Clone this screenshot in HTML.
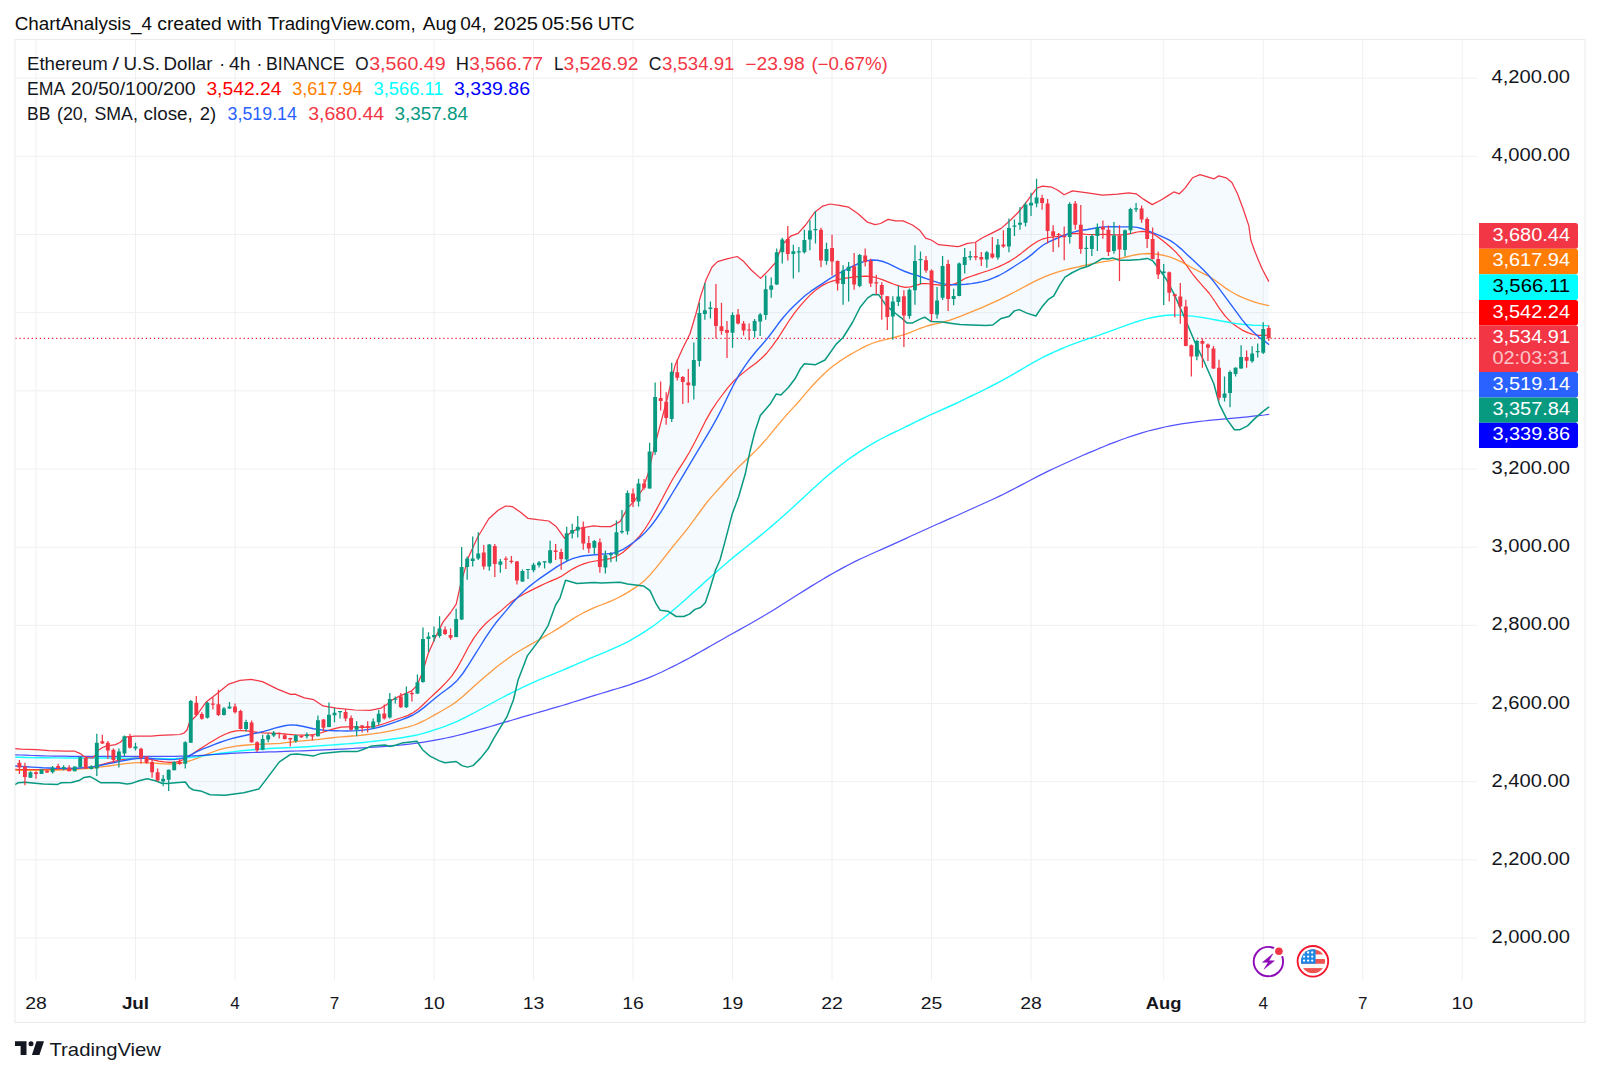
<!DOCTYPE html>
<html><head><meta charset="utf-8"><title>ETHUSD chart</title>
<style>html,body{margin:0;padding:0;background:#fff;}body{width:1600px;height:1075px;overflow:hidden;font-family:"Liberation Sans", sans-serif;}svg{display:block;position:absolute;left:0;top:0;}text{font-family:"Liberation Sans", sans-serif;}</style>
</head><body>
<svg width="1600" height="1075" viewBox="0 0 1600 1075">
<rect x="0" y="0" width="1600" height="1075" fill="#ffffff"/>
<path d="M36.0 40V980.5M135.5 40V980.5M235.0 40V980.5M334.5 40V980.5M434.0 40V980.5M533.5 40V980.5M633.0 40V980.5M732.5 40V980.5M832.0 40V980.5M931.5 40V980.5M1031.0 40V980.5M1163.7 40V980.5M1263.2 40V980.5M1362.7 40V980.5M1462.2 40V980.5M15 78.15H1477M15 156.32H1477M15 234.49H1477M15 312.66H1477M15 390.83H1477M15 469.00H1477M15 547.17H1477M15 625.34H1477M15 703.51H1477M15 781.68H1477M15 859.85H1477M15 938.02H1477" stroke="#f0f0f2" stroke-width="1" fill="none"/>
<rect x="15" y="39.5" width="1570" height="983" fill="none" stroke="#ebebee" stroke-width="1"/>
<clipPath id="cc"><rect x="15.3" y="40" width="1462.5" height="941"/></clipPath>
<g clip-path="url(#cc)">
<path d="M15.0 748.7L21.2 749.2L36.2 749.6L49.1 750.6L65.8 751.2L74.8 751.2L78.7 752.9L81.5 754.3L83.8 756.4L87.9 757.6L92.8 758.0L96.0 754.4L98.4 750.3L102.5 747.5L106.6 745.8L110.6 745.4L115.5 744.6L120.4 742.2L123.6 738.9L126.9 736.9L135.0 736.1L143.1 736.1L151.2 736.1L159.4 735.3L171.6 734.9L179.7 734.5L183.8 733.2L187.0 730.0L189.4 722.5L196.9 715.0L206.2 701.9L218.4 692.5L228.8 684.1L240.0 680.3L251.2 679.4L262.5 681.6L277.5 689.1L290.6 694.4L295.0 694.1L304.4 697.8L313.8 699.7L323.1 705.9L336.2 708.1L355.0 710.0L370.0 710.4L381.2 708.1L386.9 704.4L392.5 699.7L400.0 695.9L411.2 691.2L416.9 685.6L422.5 672.5L428.1 653.8L435.6 636.9L443.1 621.9L450.6 612.5L456.2 604.1L460.6 584.4L468.1 558.1L477.5 537.5L488.8 518.8L498.1 510.3L505.6 506.0L512.2 506.6L520.6 512.2L528.1 518.4L537.5 519.7L548.8 521.0L556.2 526.6L564.7 538.4L571.2 531.9L578.8 528.5L586.2 527.2L593.8 525.9L601.2 526.6L610.6 526.6L620.0 521.6L627.5 508.4L635.0 500.0L642.5 489.7L648.1 473.8L653.8 449.4L667.5 397.5L675.0 365.6L682.5 348.8L690.0 333.8L695.6 315.0L700.6 296.2L706.2 279.4L711.9 267.2L717.5 261.6L726.9 258.8L737.2 256.5L743.8 261.6L751.2 270.0L760.6 278.4L768.1 270.9L775.6 262.5L782.2 244.7L790.6 236.2L798.1 233.4L805.6 225.0L815.0 211.9L822.5 206.2L830.0 204.0L839.4 205.3L848.7 207.2L858.1 213.8L867.5 222.2L875.0 224.6L880.6 223.5L888.1 219.4L895.6 220.9L903.1 220.9L912.5 225.0L920.0 230.6L925.6 238.1L931.2 240.0L938.7 244.7L948.1 245.6L957.5 246.6L960.0 246.2L967.5 243.4L975.0 242.5L982.5 237.8L991.9 233.1L1001.2 228.4L1010.6 220.0L1018.1 212.5L1025.6 203.1L1031.2 195.6L1036.9 188.1L1042.5 186.2L1051.9 187.2L1057.5 190.0L1064.1 194.7L1072.5 190.9L1087.5 192.8L1102.5 195.2L1117.5 194.1L1128.8 192.8L1136.2 193.8L1143.8 199.4L1152.2 204.6L1160.6 200.3L1168.1 195.6L1173.8 191.9L1179.4 193.8L1185.0 188.1L1192.5 177.8L1200.0 174.6L1207.5 176.9L1214.1 178.8L1218.8 175.9L1226.2 177.8L1231.9 182.5L1237.5 193.8L1243.1 208.8L1248.8 225.6L1250.8 240.0L1254.4 250.2L1258.5 260.5L1262.6 269.7L1268.6 281.1L1268.7 407.2L1262.5 411.9L1255.0 418.4L1247.5 425.9L1240.0 429.7L1234.4 429.7L1226.9 419.4L1219.4 404.4L1213.8 383.8L1204.4 362.2L1195.0 342.5L1185.6 320.0L1174.4 294.7L1166.2 279.1L1158.8 268.8L1153.1 261.2L1147.5 258.4L1140.0 259.4L1128.8 260.3L1119.4 260.3L1112.8 257.9L1108.1 259.0L1102.5 258.4L1095.0 262.8L1087.5 266.5L1080.0 268.8L1072.5 272.5L1065.0 277.2L1059.4 285.6L1053.8 295.9L1048.1 299.7L1042.5 306.2L1035.9 316.0L1027.5 313.4L1019.1 309.6L1014.4 310.9L1008.8 316.6L1001.2 318.4L992.8 325.0L986.2 325.4L971.2 325.0L960.0 324.6L951.9 323.4L942.5 322.1L931.2 321.6L924.7 317.2L920.0 319.1L912.5 322.9L906.9 322.9L901.2 317.8L895.6 313.5L886.2 305.6L878.8 294.8L873.1 294.4L867.5 298.1L860.0 307.5L852.5 322.5L843.1 337.5L836.2 344.1L825.0 360.0L815.6 364.7L804.4 363.8L800.6 368.4L795.0 378.8L788.4 387.5L780.9 395.0L776.2 394.1L770.6 403.4L760.3 415.6L754.7 432.5L750.0 451.2L745.3 473.8L738.8 496.2L732.2 514.1L725.6 539.4L720.0 560.0L715.6 570.0L710.0 588.8L705.3 602.8L700.6 607.5L695.0 609.4L689.4 614.1L683.8 616.5L676.2 616.5L667.8 611.2L660.3 610.3L655.6 602.8L650.0 590.6L643.4 585.9L627.5 584.1L620.0 582.2L601.2 583.1L593.8 582.6L576.9 583.5L565.6 580.3L560.0 598.1L555.6 605.0L548.1 625.6L538.8 640.6L527.5 655.6L518.1 680.0L513.4 700.0L506.9 716.9L501.2 726.2L493.8 738.4L488.1 748.8L480.6 758.1L473.1 765.6L467.5 767.1L461.9 765.6L456.2 761.5L445.0 762.8L439.4 760.9L430.0 756.2L422.5 749.7L416.9 741.2L401.9 743.1L396.2 745.0L389.7 746.5L385.0 745.0L371.9 745.9L362.5 749.7L356.9 751.6L341.9 751.6L321.2 753.4L313.8 755.9L296.9 754.0L290.6 754.4L279.4 761.9L268.1 776.9L258.8 789.1L243.8 792.8L225.0 795.2L210.0 794.7L200.6 790.9L193.5 790.0L189.4 787.7L185.4 782.0L175.6 782.8L167.5 783.6L161.8 783.2L155.3 780.8L147.2 778.8L139.1 780.8L130.9 783.6L126.9 784.0L118.8 782.8L110.6 782.8L100.9 782.8L94.4 778.8L90.0 776.6L84.2 777.4L79.8 780.2L71.4 782.5L61.4 782.7L57.5 784.4L43.5 784.1L32.3 783.0L25.1 782.2L18.4 782.7L15.0 784.7Z" fill="#2196f3" fill-opacity="0.05" stroke="none"/>
<path d="M15.4 338.3H1478" stroke="#f0102a" stroke-width="1.25" stroke-dasharray="1.2 2.875" fill="none"/>
<path d="M15.0 769.4L20.5 769.5L26.1 769.6L31.6 769.7L37.1 769.7L42.6 769.6L48.2 769.5L53.7 769.4L59.2 769.2L64.8 769.1L70.3 768.9L75.8 768.7L81.3 768.2L86.9 767.6L92.4 766.8L97.9 765.5L103.4 764.1L109.0 762.6L114.5 761.3L120.0 760.2L125.6 759.1L131.1 758.3L136.6 757.9L142.1 758.1L147.7 758.9L153.2 759.9L158.7 761.1L164.3 761.9L169.8 762.3L175.3 762.3L180.8 760.8L186.4 758.0L191.9 754.2L197.4 750.5L203.0 747.0L208.5 743.6L214.0 740.2L219.5 737.0L225.1 734.2L230.6 732.1L236.1 730.8L241.6 730.5L247.2 730.8L252.7 731.7L258.2 732.4L263.8 732.9L269.3 733.1L274.8 733.3L280.3 733.6L285.9 734.1L291.4 734.6L296.9 735.0L302.5 735.2L308.0 735.1L313.5 734.5L319.0 733.5L324.6 731.7L330.1 729.9L335.6 728.3L341.2 727.2L346.7 726.8L352.2 726.8L357.7 727.1L363.3 727.4L368.8 727.2L374.3 726.5L379.8 725.0L385.4 723.2L390.9 721.2L396.4 719.3L402.0 717.5L407.5 715.6L413.0 712.8L418.5 708.9L424.1 703.7L429.6 698.4L435.1 693.2L440.7 688.0L446.2 682.4L451.7 676.2L457.2 667.9L462.8 657.8L468.3 647.3L473.8 638.1L479.4 630.5L484.9 624.3L490.4 619.4L495.9 615.0L501.5 610.4L507.0 605.4L512.5 601.0L518.0 597.4L523.6 594.3L529.1 591.4L534.6 588.6L540.2 585.9L545.7 583.2L551.2 580.9L556.7 578.6L562.3 575.7L567.8 572.1L573.3 568.6L578.9 565.7L584.4 563.6L589.9 562.0L595.4 561.0L601.0 560.1L606.5 559.4L612.0 558.1L617.6 555.8L623.1 552.2L628.6 547.5L634.1 541.9L639.7 535.8L645.2 528.5L650.7 519.8L656.2 509.9L661.8 499.5L667.3 489.0L672.8 479.0L678.4 469.9L683.9 461.4L689.4 452.2L694.9 442.0L700.5 430.9L706.0 420.1L711.5 410.4L717.1 402.0L722.6 394.5L728.1 387.3L733.6 381.1L739.2 376.0L744.7 371.6L750.2 367.3L755.8 363.2L761.3 358.5L766.8 353.0L772.3 346.1L777.9 338.2L783.4 329.6L788.9 321.0L794.4 313.1L800.0 306.1L805.5 299.8L811.0 294.2L816.6 289.4L822.1 285.6L827.6 282.8L833.1 280.9L838.7 279.5L844.2 278.4L849.7 277.6L855.3 276.8L860.8 276.3L866.3 276.2L871.8 276.6L877.4 278.0L882.9 279.9L888.4 282.1L894.0 284.2L899.5 286.1L905.0 287.3L910.5 286.9L916.1 285.3L921.6 283.7L927.1 283.5L932.6 284.4L938.2 284.8L943.7 285.3L949.2 285.4L954.8 283.9L960.3 281.3L965.8 278.1L971.3 276.2L976.9 274.4L982.4 272.5L987.9 270.7L993.5 268.7L999.0 266.6L1004.5 264.0L1010.0 261.1L1015.6 257.5L1021.1 253.4L1026.6 249.0L1032.2 244.7L1037.7 241.2L1043.2 238.8L1048.7 237.5L1054.3 236.8L1059.8 236.1L1065.3 234.8L1070.8 233.6L1076.4 233.3L1081.9 233.9L1087.4 234.5L1093.0 234.6L1098.5 234.5L1104.0 234.4L1109.5 234.6L1115.1 234.9L1120.6 234.9L1126.1 234.4L1131.7 233.3L1137.2 232.0L1142.7 231.3L1148.2 231.9L1153.8 234.3L1159.3 238.0L1164.8 242.3L1170.4 247.0L1175.9 252.1L1181.4 258.4L1186.9 266.0L1192.5 273.9L1198.0 280.7L1203.5 286.9L1209.0 293.0L1214.6 301.0L1220.1 309.3L1225.6 316.7L1231.2 322.4L1236.7 326.6L1242.2 330.1L1247.7 332.6L1253.3 334.5L1258.8 335.3L1264.3 335.4L1268.6 335.2" fill="none" stroke="#ff0000" stroke-width="1.2" stroke-linejoin="round" stroke-linecap="round" opacity="0.8"/>
<path d="M15.0 770.3L20.5 770.3L26.1 770.3L31.6 770.3L37.1 770.3L42.6 770.2L48.2 770.1L53.7 770.1L59.2 770.0L64.8 769.9L70.3 769.7L75.8 769.3L81.3 768.9L86.9 768.5L92.4 768.0L97.9 767.4L103.4 766.7L109.0 766.0L114.5 765.2L120.0 764.4L125.6 763.6L131.1 763.1L136.6 762.7L142.1 762.7L147.7 762.8L153.2 763.2L158.7 763.5L164.3 763.9L169.8 764.0L175.3 763.8L180.8 763.1L186.4 761.8L191.9 760.1L197.4 758.1L203.0 755.9L208.5 753.6L214.0 751.5L219.5 749.7L225.1 748.2L230.6 747.1L236.1 746.2L241.6 745.5L247.2 745.0L252.7 744.6L258.2 744.3L263.8 744.1L269.3 743.9L274.8 743.6L280.3 743.3L285.9 742.7L291.4 742.0L296.9 741.3L302.5 740.8L308.0 740.3L313.5 739.8L319.0 739.3L324.6 738.7L330.1 738.0L335.6 737.4L341.2 736.9L346.7 736.5L352.2 736.0L357.7 735.6L363.3 735.0L368.8 734.4L374.3 733.7L379.8 732.9L385.4 731.9L390.9 730.8L396.4 729.7L402.0 728.4L407.5 727.1L413.0 725.5L418.5 723.4L424.1 720.7L429.6 717.7L435.1 714.6L440.7 711.5L446.2 708.3L451.7 705.0L457.2 701.1L462.8 696.5L468.3 691.5L473.8 686.5L479.4 681.6L484.9 676.8L490.4 672.2L495.9 667.6L501.5 663.3L507.0 659.2L512.5 655.3L518.0 651.8L523.6 648.5L529.1 645.4L534.6 642.2L540.2 639.1L545.7 635.9L551.2 632.7L556.7 629.4L562.3 625.9L567.8 622.3L573.3 618.6L578.9 615.2L584.4 612.3L589.9 609.6L595.4 607.2L601.0 605.0L606.5 602.9L612.0 600.6L617.6 598.0L623.1 595.1L628.6 591.9L634.1 588.4L639.7 584.5L645.2 579.9L650.7 574.2L656.2 567.7L661.8 560.7L667.3 553.6L672.8 546.6L678.4 539.8L683.9 533.2L689.4 526.2L694.9 518.7L700.5 511.0L706.0 503.5L711.5 496.9L717.1 490.6L722.6 484.5L728.1 478.2L733.6 472.1L739.2 466.5L744.7 461.2L750.2 456.0L755.8 450.6L761.3 444.8L766.8 438.6L772.3 431.9L777.9 425.1L783.4 418.6L788.9 412.4L794.4 406.4L800.0 400.2L805.5 393.7L811.0 387.3L816.6 381.2L822.1 375.7L827.6 370.6L833.1 366.1L838.7 361.9L844.2 358.2L849.7 354.9L855.3 351.7L860.8 348.7L866.3 345.9L871.8 343.5L877.4 341.6L882.9 340.1L888.4 338.8L894.0 337.5L899.5 336.0L905.0 334.3L910.5 332.3L916.1 330.0L921.6 327.8L927.1 326.0L932.6 324.5L938.2 323.3L943.7 321.9L949.2 320.3L954.8 318.4L960.3 316.3L965.8 314.2L971.3 311.9L976.9 309.7L982.4 307.3L987.9 304.9L993.5 302.4L999.0 299.8L1004.5 297.1L1010.0 294.3L1015.6 291.5L1021.1 288.5L1026.6 285.6L1032.2 282.7L1037.7 279.9L1043.2 277.4L1048.7 275.2L1054.3 273.2L1059.8 271.4L1065.3 269.9L1070.8 268.5L1076.4 267.3L1081.9 266.0L1087.4 264.9L1093.0 263.7L1098.5 262.7L1104.0 261.7L1109.5 260.8L1115.1 259.7L1120.6 258.4L1126.1 257.0L1131.7 255.7L1137.2 254.5L1142.7 253.8L1148.2 253.5L1153.8 253.8L1159.3 254.5L1164.8 255.6L1170.4 257.2L1175.9 259.3L1181.4 261.9L1186.9 264.9L1192.5 268.0L1198.0 270.9L1203.5 273.6L1209.0 276.4L1214.6 280.0L1220.1 284.1L1225.6 288.1L1231.2 291.7L1236.7 294.8L1242.2 297.4L1247.7 299.7L1253.3 301.7L1258.8 303.3L1264.3 304.6L1268.6 305.6" fill="none" stroke="#ff8a1f" stroke-width="1.3" stroke-linejoin="round" stroke-linecap="round" opacity="0.85"/>
<path d="M15.0 757.2L20.5 757.3L26.1 757.5L31.6 757.6L37.1 757.7L42.6 757.8L48.2 757.8L53.7 757.9L59.2 757.9L64.8 758.0L70.3 758.0L75.8 758.0L81.3 758.0L86.9 758.0L92.4 758.0L97.9 758.0L103.4 758.0L109.0 758.0L114.5 758.0L120.0 758.0L125.6 758.1L131.1 758.1L136.6 758.2L142.1 758.2L147.7 758.3L153.2 758.4L158.7 758.5L164.3 758.6L169.8 758.6L175.3 758.5L180.8 758.2L186.4 757.9L191.9 757.3L197.4 756.7L203.0 755.9L208.5 755.1L214.0 754.3L219.5 753.5L225.1 752.7L230.6 752.1L236.1 751.4L241.6 750.8L247.2 750.3L252.7 749.8L258.2 749.3L263.8 748.9L269.3 748.5L274.8 748.2L280.3 748.0L285.9 747.8L291.4 747.6L296.9 747.3L302.5 747.0L308.0 746.7L313.5 746.3L319.0 745.9L324.6 745.5L330.1 745.1L335.6 744.7L341.2 744.3L346.7 743.9L352.2 743.5L357.7 743.0L363.3 742.5L368.8 741.9L374.3 741.3L379.8 740.6L385.4 740.0L390.9 739.3L396.4 738.5L402.0 737.7L407.5 736.8L413.0 735.8L418.5 734.6L424.1 733.1L429.6 731.5L435.1 729.7L440.7 727.8L446.2 725.8L451.7 723.6L457.2 721.3L462.8 718.7L468.3 715.9L473.8 713.0L479.4 710.0L484.9 707.0L490.4 704.0L495.9 701.0L501.5 698.0L507.0 695.1L512.5 692.3L518.0 689.6L523.6 686.9L529.1 684.3L534.6 681.8L540.2 679.4L545.7 677.1L551.2 674.8L556.7 672.6L562.3 670.3L567.8 668.0L573.3 665.6L578.9 663.2L584.4 660.8L589.9 658.4L595.4 656.2L601.0 653.9L606.5 651.6L612.0 649.2L617.6 646.7L623.1 644.1L628.6 641.3L634.1 638.2L639.7 634.9L645.2 631.4L650.7 627.7L656.2 623.7L661.8 619.5L667.3 615.1L672.8 610.5L678.4 605.8L683.9 600.9L689.4 596.0L694.9 591.0L700.5 586.1L706.0 581.1L711.5 576.2L717.1 571.3L722.6 566.5L728.1 561.7L733.6 557.1L739.2 552.6L744.7 548.2L750.2 543.8L755.8 539.4L761.3 534.9L766.8 530.3L772.3 525.6L777.9 520.8L783.4 515.9L788.9 511.0L794.4 505.9L800.0 500.8L805.5 495.7L811.0 490.6L816.6 485.5L822.1 480.5L827.6 475.7L833.1 471.1L838.7 466.7L844.2 462.5L849.7 458.4L855.3 454.6L860.8 450.9L866.3 447.4L871.8 444.1L877.4 440.9L882.9 438.0L888.4 435.2L894.0 432.5L899.5 429.9L905.0 427.2L910.5 424.5L916.1 421.7L921.6 419.0L927.1 416.3L932.6 413.8L938.2 411.4L943.7 409.0L949.2 406.5L954.8 404.0L960.3 401.4L965.8 398.7L971.3 396.0L976.9 393.3L982.4 390.6L987.9 387.8L993.5 385.0L999.0 382.1L1004.5 379.2L1010.0 376.1L1015.6 372.9L1021.1 369.6L1026.6 366.4L1032.2 363.2L1037.7 360.1L1043.2 357.2L1048.7 354.5L1054.3 351.9L1059.8 349.5L1065.3 347.1L1070.8 344.9L1076.4 342.8L1081.9 340.9L1087.4 339.0L1093.0 337.1L1098.5 335.3L1104.0 333.3L1109.5 331.3L1115.1 329.3L1120.6 327.3L1126.1 325.3L1131.7 323.3L1137.2 321.5L1142.7 319.9L1148.2 318.4L1153.8 317.2L1159.3 316.2L1164.8 315.5L1170.4 315.0L1175.9 315.0L1181.4 315.1L1186.9 315.6L1192.5 316.1L1198.0 316.9L1203.5 317.7L1209.0 318.6L1214.6 319.7L1220.1 320.7L1225.6 321.8L1231.2 322.8L1236.7 323.6L1242.2 324.3L1247.7 324.8L1253.3 325.2L1258.8 325.4L1264.3 325.6L1268.6 325.8" fill="none" stroke="#00ffff" stroke-width="1.4" stroke-linejoin="round" stroke-linecap="round" opacity="0.9"/>
<path d="M15.0 754.8L20.5 755.0L26.1 755.2L31.6 755.5L37.1 755.6L42.6 755.8L48.2 756.0L53.7 756.1L59.2 756.2L64.8 756.2L70.3 756.3L75.8 756.3L81.3 756.4L86.9 756.4L92.4 756.4L97.9 756.4L103.4 756.4L109.0 756.4L114.5 756.4L120.0 756.4L125.6 756.4L131.1 756.4L136.6 756.4L142.1 756.4L147.7 756.4L153.2 756.4L158.7 756.4L164.3 756.4L169.8 756.4L175.3 756.3L180.8 756.2L186.4 756.1L191.9 755.9L197.4 755.6L203.0 755.3L208.5 754.9L214.0 754.5L219.5 754.1L225.1 753.8L230.6 753.4L236.1 753.1L241.6 752.9L247.2 752.7L252.7 752.5L258.2 752.3L263.8 752.1L269.3 751.9L274.8 751.8L280.3 751.6L285.9 751.4L291.4 751.2L296.9 751.0L302.5 750.8L308.0 750.6L313.5 750.4L319.0 750.2L324.6 749.9L330.1 749.7L335.6 749.4L341.2 749.1L346.7 748.8L352.2 748.5L357.7 748.2L363.3 747.9L368.8 747.5L374.3 747.1L379.8 746.8L385.4 746.4L390.9 745.9L396.4 745.5L402.0 744.9L407.5 744.3L413.0 743.7L418.5 742.9L424.1 742.1L429.6 741.2L435.1 740.2L440.7 739.2L446.2 738.0L451.7 736.8L457.2 735.5L462.8 734.2L468.3 732.7L473.8 731.2L479.4 729.7L484.9 728.1L490.4 726.5L495.9 724.9L501.5 723.2L507.0 721.6L512.5 720.0L518.0 718.3L523.6 716.7L529.1 715.1L534.6 713.5L540.2 711.9L545.7 710.4L551.2 708.7L556.7 707.1L562.3 705.5L567.8 703.8L573.3 702.0L578.9 700.3L584.4 698.6L589.9 696.9L595.4 695.2L601.0 693.5L606.5 691.8L612.0 690.2L617.6 688.5L623.1 686.8L628.6 685.1L634.1 683.2L639.7 681.2L645.2 679.1L650.7 676.9L656.2 674.5L661.8 672.0L667.3 669.3L672.8 666.6L678.4 663.8L683.9 660.9L689.4 658.0L694.9 654.9L700.5 651.8L706.0 648.6L711.5 645.5L717.1 642.3L722.6 639.2L728.1 636.0L733.6 633.0L739.2 629.9L744.7 626.8L750.2 623.7L755.8 620.5L761.3 617.3L766.8 614.0L772.3 610.7L777.9 607.2L783.4 603.8L788.9 600.3L794.4 596.8L800.0 593.3L805.5 589.9L811.0 586.4L816.6 583.0L822.1 579.7L827.6 576.4L833.1 573.2L838.7 570.1L844.2 567.1L849.7 564.2L855.3 561.4L860.8 558.8L866.3 556.2L871.8 553.8L877.4 551.3L882.9 548.9L888.4 546.4L894.0 543.9L899.5 541.4L905.0 538.9L910.5 536.3L916.1 533.8L921.6 531.3L927.1 528.8L932.6 526.3L938.2 523.8L943.7 521.4L949.2 518.9L954.8 516.5L960.3 514.0L965.8 511.5L971.3 509.0L976.9 506.5L982.4 504.0L987.9 501.5L993.5 499.0L999.0 496.4L1004.5 493.7L1010.0 490.9L1015.6 488.0L1021.1 485.1L1026.6 482.2L1032.2 479.3L1037.7 476.4L1043.2 473.6L1048.7 470.9L1054.3 468.3L1059.8 465.7L1065.3 463.2L1070.8 460.7L1076.4 458.3L1081.9 455.8L1087.4 453.4L1093.0 451.1L1098.5 448.7L1104.0 446.5L1109.5 444.2L1115.1 442.1L1120.6 440.0L1126.1 438.0L1131.7 436.1L1137.2 434.3L1142.7 432.6L1148.2 431.0L1153.8 429.6L1159.3 428.3L1164.8 427.0L1170.4 425.9L1175.9 424.9L1181.4 423.9L1186.9 423.1L1192.5 422.3L1198.0 421.6L1203.5 421.0L1209.0 420.4L1214.6 419.9L1220.1 419.4L1225.6 418.9L1231.2 418.4L1236.7 417.9L1242.2 417.4L1247.7 416.8L1253.3 416.2L1258.8 415.6L1264.3 415.0L1268.7 414.3" fill="none" stroke="#0000ff" stroke-width="1.25" stroke-linejoin="round" stroke-linecap="round" opacity="0.68"/>
<path d="M15.0 766.0L20.5 766.4L26.1 766.7L31.6 767.1L37.1 767.4L42.6 767.8L48.2 768.0L53.7 768.3L59.2 768.4L64.8 768.5L70.3 768.5L75.8 768.3L81.3 767.9L86.9 767.5L92.4 766.9L97.9 766.0L103.4 764.8L109.0 763.6L114.5 762.5L120.0 761.4L125.6 760.3L131.1 759.3L136.6 758.6L142.1 758.2L147.7 758.3L153.2 758.7L158.7 759.1L164.3 759.4L169.8 759.6L175.3 759.4L180.8 758.6L186.4 756.9L191.9 754.3L197.4 751.4L203.0 748.9L208.5 746.8L214.0 744.7L219.5 742.5L225.1 740.6L230.6 738.9L236.1 737.5L241.6 736.2L247.2 735.0L252.7 733.8L258.2 732.7L263.8 731.4L269.3 729.8L274.8 728.2L280.3 726.7L285.9 725.5L291.4 724.9L296.9 725.2L302.5 726.2L308.0 727.5L313.5 728.8L319.0 729.6L324.6 730.3L330.1 730.6L335.6 730.8L341.2 730.9L346.7 731.0L352.2 730.9L357.7 730.6L363.3 730.1L368.8 729.4L374.3 728.4L379.8 727.0L385.4 725.4L390.9 723.6L396.4 721.7L402.0 719.6L407.5 717.5L413.0 715.0L418.5 711.6L424.1 707.4L429.6 702.7L435.1 698.2L440.7 693.8L446.2 689.7L451.7 685.6L457.2 680.4L462.8 673.5L468.3 665.2L473.8 656.4L479.4 647.5L484.9 638.7L490.4 630.4L495.9 622.8L501.5 616.1L507.0 609.6L512.5 603.0L518.0 597.0L523.6 591.5L529.1 586.6L534.6 582.2L540.2 578.1L545.7 574.3L551.2 570.6L556.7 566.9L562.3 563.6L567.8 560.6L573.3 558.4L578.9 556.8L584.4 555.8L589.9 555.2L595.4 554.7L601.0 554.3L606.5 553.9L612.0 553.4L617.6 551.9L623.1 549.4L628.6 545.9L634.1 542.0L639.7 537.6L645.2 532.4L650.7 526.3L656.2 519.0L661.8 510.7L667.3 501.7L672.8 492.5L678.4 483.3L683.9 474.1L689.4 464.8L694.9 455.6L700.5 446.4L706.0 437.1L711.5 427.8L717.1 417.9L722.6 407.3L728.1 395.7L733.6 384.7L739.2 374.7L744.7 366.3L750.2 358.7L755.8 351.8L761.3 345.5L766.8 339.1L772.3 332.0L777.9 324.3L783.4 317.3L788.9 311.1L794.4 305.6L800.0 300.3L805.5 295.3L811.0 291.2L816.6 287.4L822.1 283.8L827.6 280.2L833.1 276.7L838.7 273.5L844.2 270.5L849.7 267.7L855.3 265.0L860.8 262.6L866.3 260.9L871.8 260.0L877.4 260.2L882.9 261.5L888.4 263.7L894.0 266.4L899.5 269.1L905.0 271.5L910.5 273.5L916.1 275.2L921.6 277.0L927.1 278.9L932.6 280.9L938.2 282.7L943.7 283.9L949.2 284.6L954.8 284.8L960.3 284.6L965.8 284.2L971.3 283.6L976.9 282.8L982.4 281.6L987.9 280.1L993.5 277.9L999.0 275.5L1004.5 272.5L1010.0 269.1L1015.6 265.5L1021.1 262.0L1026.6 258.4L1032.2 254.1L1037.7 249.3L1043.2 245.0L1048.7 241.8L1054.3 239.5L1059.8 237.2L1065.3 235.0L1070.8 232.9L1076.4 231.3L1081.9 230.3L1087.4 229.5L1093.0 228.5L1098.5 227.5L1104.0 226.9L1109.5 226.8L1115.1 226.8L1120.6 226.9L1126.1 226.9L1131.7 226.9L1137.2 227.4L1142.7 228.8L1148.2 230.8L1153.8 233.2L1159.3 235.4L1164.8 237.9L1170.4 240.6L1175.9 244.5L1181.4 249.1L1186.9 254.4L1192.5 259.6L1198.0 264.8L1203.5 270.0L1209.0 275.8L1214.6 282.6L1220.1 289.9L1225.6 297.3L1231.2 304.8L1236.7 312.3L1242.2 319.9L1247.7 326.5L1253.3 332.1L1258.8 337.1L1264.3 340.9L1268.6 344.2" fill="none" stroke="#2962ff" stroke-width="1.4" stroke-linejoin="round" stroke-linecap="round" opacity="1"/>
<path d="M15.0 748.7L21.2 749.2L36.2 749.6L49.1 750.6L65.8 751.2L74.8 751.2L78.7 752.9L81.5 754.3L83.8 756.4L87.9 757.6L92.8 758.0L96.0 754.4L98.4 750.3L102.5 747.5L106.6 745.8L110.6 745.4L115.5 744.6L120.4 742.2L123.6 738.9L126.9 736.9L135.0 736.1L143.1 736.1L151.2 736.1L159.4 735.3L171.6 734.9L179.7 734.5L183.8 733.2L187.0 730.0L189.4 722.5L196.9 715.0L206.2 701.9L218.4 692.5L228.8 684.1L240.0 680.3L251.2 679.4L262.5 681.6L277.5 689.1L290.6 694.4L295.0 694.1L304.4 697.8L313.8 699.7L323.1 705.9L336.2 708.1L355.0 710.0L370.0 710.4L381.2 708.1L386.9 704.4L392.5 699.7L400.0 695.9L411.2 691.2L416.9 685.6L422.5 672.5L428.1 653.8L435.6 636.9L443.1 621.9L450.6 612.5L456.2 604.1L460.6 584.4L468.1 558.1L477.5 537.5L488.8 518.8L498.1 510.3L505.6 506.0L512.2 506.6L520.6 512.2L528.1 518.4L537.5 519.7L548.8 521.0L556.2 526.6L564.7 538.4L571.2 531.9L578.8 528.5L586.2 527.2L593.8 525.9L601.2 526.6L610.6 526.6L620.0 521.6L627.5 508.4L635.0 500.0L642.5 489.7L648.1 473.8L653.8 449.4L667.5 397.5L675.0 365.6L682.5 348.8L690.0 333.8L695.6 315.0L700.6 296.2L706.2 279.4L711.9 267.2L717.5 261.6L726.9 258.8L737.2 256.5L743.8 261.6L751.2 270.0L760.6 278.4L768.1 270.9L775.6 262.5L782.2 244.7L790.6 236.2L798.1 233.4L805.6 225.0L815.0 211.9L822.5 206.2L830.0 204.0L839.4 205.3L848.7 207.2L858.1 213.8L867.5 222.2L875.0 224.6L880.6 223.5L888.1 219.4L895.6 220.9L903.1 220.9L912.5 225.0L920.0 230.6L925.6 238.1L931.2 240.0L938.7 244.7L948.1 245.6L957.5 246.6L960.0 246.2L967.5 243.4L975.0 242.5L982.5 237.8L991.9 233.1L1001.2 228.4L1010.6 220.0L1018.1 212.5L1025.6 203.1L1031.2 195.6L1036.9 188.1L1042.5 186.2L1051.9 187.2L1057.5 190.0L1064.1 194.7L1072.5 190.9L1087.5 192.8L1102.5 195.2L1117.5 194.1L1128.8 192.8L1136.2 193.8L1143.8 199.4L1152.2 204.6L1160.6 200.3L1168.1 195.6L1173.8 191.9L1179.4 193.8L1185.0 188.1L1192.5 177.8L1200.0 174.6L1207.5 176.9L1214.1 178.8L1218.8 175.9L1226.2 177.8L1231.9 182.5L1237.5 193.8L1243.1 208.8L1248.8 225.6L1250.8 240.0L1254.4 250.2L1258.5 260.5L1262.6 269.7L1268.6 281.1" fill="none" stroke="#f23645" stroke-width="1.25" stroke-linejoin="round" stroke-linecap="round" opacity="1"/>
<path d="M15.0 784.7L18.4 782.7L25.1 782.2L32.3 783.0L43.5 784.1L57.5 784.4L61.4 782.7L71.4 782.5L79.8 780.2L84.2 777.4L90.0 776.6L94.4 778.8L100.9 782.8L110.6 782.8L118.8 782.8L126.9 784.0L130.9 783.6L139.1 780.8L147.2 778.8L155.3 780.8L161.8 783.2L167.5 783.6L175.6 782.8L185.4 782.0L189.4 787.7L193.5 790.0L200.6 790.9L210.0 794.7L225.0 795.2L243.8 792.8L258.8 789.1L268.1 776.9L279.4 761.9L290.6 754.4L296.9 754.0L313.8 755.9L321.2 753.4L341.9 751.6L356.9 751.6L362.5 749.7L371.9 745.9L385.0 745.0L389.7 746.5L396.2 745.0L401.9 743.1L416.9 741.2L422.5 749.7L430.0 756.2L439.4 760.9L445.0 762.8L456.2 761.5L461.9 765.6L467.5 767.1L473.1 765.6L480.6 758.1L488.1 748.8L493.8 738.4L501.2 726.2L506.9 716.9L513.4 700.0L518.1 680.0L527.5 655.6L538.8 640.6L548.1 625.6L555.6 605.0L560.0 598.1L565.6 580.3L576.9 583.5L593.8 582.6L601.2 583.1L620.0 582.2L627.5 584.1L643.4 585.9L650.0 590.6L655.6 602.8L660.3 610.3L667.8 611.2L676.2 616.5L683.8 616.5L689.4 614.1L695.0 609.4L700.6 607.5L705.3 602.8L710.0 588.8L715.6 570.0L720.0 560.0L725.6 539.4L732.2 514.1L738.8 496.2L745.3 473.8L750.0 451.2L754.7 432.5L760.3 415.6L770.6 403.4L776.2 394.1L780.9 395.0L788.4 387.5L795.0 378.8L800.6 368.4L804.4 363.8L815.6 364.7L825.0 360.0L836.2 344.1L843.1 337.5L852.5 322.5L860.0 307.5L867.5 298.1L873.1 294.4L878.8 294.8L886.2 305.6L895.6 313.5L901.2 317.8L906.9 322.9L912.5 322.9L920.0 319.1L924.7 317.2L931.2 321.6L942.5 322.1L951.9 323.4L960.0 324.6L971.2 325.0L986.2 325.4L992.8 325.0L1001.2 318.4L1008.8 316.6L1014.4 310.9L1019.1 309.6L1027.5 313.4L1035.9 316.0L1042.5 306.2L1048.1 299.7L1053.8 295.9L1059.4 285.6L1065.0 277.2L1072.5 272.5L1080.0 268.8L1087.5 266.5L1095.0 262.8L1102.5 258.4L1108.1 259.0L1112.8 257.9L1119.4 260.3L1128.8 260.3L1140.0 259.4L1147.5 258.4L1153.1 261.2L1158.8 268.8L1166.2 279.1L1174.4 294.7L1185.6 320.0L1195.0 342.5L1204.4 362.2L1213.8 383.8L1219.4 404.4L1226.9 419.4L1234.4 429.7L1240.0 429.7L1247.5 425.9L1255.0 418.4L1262.5 411.9L1268.7 407.2" fill="none" stroke="#089981" stroke-width="1.5" stroke-linejoin="round" stroke-linecap="round" opacity="1"/>
<g clip-path="none">
<path d="M30.47 771.2V777.8M41.53 769.4V774.1M52.58 766.0V773.5M63.64 765.2V770.3M74.70 766.6V771.2M80.22 756.6V767.5M91.28 765.2V769.4M96.81 733.8V775.9M118.92 748.4V767.5M124.45 735.6V756.2M135.50 742.8V750.6M163.14 775.0V786.2M168.67 769.4V790.9M174.20 760.9V770.3M185.26 741.2V768.4M190.78 700.0V743.1M207.37 701.9V718.4M223.95 707.1V715.4M229.48 701.9V709.0M246.06 719.7V731.5M262.65 734.7V750.2M268.18 733.4V742.2M273.70 730.9V737.1M295.82 734.4V742.8M306.87 732.5V738.5M317.93 715.6V736.6M328.98 702.5V727.2M334.51 708.1V722.2M340.04 710.9V718.4M356.62 721.2V736.2M373.21 718.4V728.8M378.74 710.0V725.0M389.79 693.1V718.4M395.32 696.5V703.4M406.38 686.6V708.1M417.43 674.4V694.1M422.96 627.5V682.8M428.49 632.2V651.9M434.02 626.6V641.6M439.54 616.2V637.8M456.13 608.8V637.2M461.66 546.9V620.0M467.18 556.6V579.7M472.71 536.6V566.6M478.24 532.2V560.0M489.30 544.1V570.7M500.35 559.1V572.8M522.46 569.4V582.1M527.99 568.9V579.1M533.52 562.8V572.2M539.05 560.9V567.5M544.58 561.3V568.4M550.10 540.7V563.8M566.69 526.8V560.9M572.22 523.8V538.4M577.74 515.9V537.5M594.33 539.9V554.0M605.38 550.6V573.5M610.91 552.1V562.2M616.44 520.6V561.5M621.97 509.9V533.8M627.50 490.6V534.7M638.55 478.8V506.6M649.61 442.8V488.8M655.14 382.5V454.7M671.72 362.8V421.9M693.83 342.6V399.4M699.36 302.8V366.6M704.89 283.1V319.7M710.42 301.5V318.4M732.53 312.2V347.8M754.64 319.1V337.5M760.17 313.1V336.0M765.70 275.6V319.7M771.22 277.5V297.8M776.75 248.4V285.0M782.28 237.8V263.4M793.34 244.7V278.4M798.86 247.1V272.2M804.39 229.7V253.5M809.92 220.3V250.3M815.45 210.9V243.4M826.50 242.8V264.8M843.09 265.3V304.7M848.62 262.1V301.5M859.67 254.1V287.2M892.84 296.2V339.8M898.37 285.9V306.0M909.42 288.4V318.8M914.95 245.2V304.7M920.48 251.6V284.1M937.06 286.9V318.8M942.59 255.9V300.0M953.65 288.8V305.2M959.18 262.5V296.2M964.70 248.1V273.4M970.23 250.9V260.3M986.82 250.9V267.8M997.87 239.1V259.8M1008.93 218.5V252.2M1014.46 219.6V235.9M1019.98 206.9V229.8M1025.51 202.2V226.6M1031.04 192.8V215.9M1036.57 178.8V207.2M1069.74 202.2V243.4M1086.32 235.9V266.9M1091.85 234.1V256.0M1097.38 223.4V250.9M1113.96 221.9V253.8M1125.02 229.4V256.6M1130.54 207.8V234.1M1136.07 203.1V212.1M1163.71 264.1V305.0M1196.88 339.7V360.3M1224.52 376.6V401.6M1230.05 370.6V407.2M1235.58 367.2V376.6M1241.10 345.3V368.8M1252.16 346.2V362.8M1257.69 343.4V357.5M1263.22 322.2V354.1" stroke="#089981" stroke-width="1.25" fill="none"/>
<path d="M19.42 760.0V774.1M24.94 762.8V785.3M36.00 771.2V778.8M47.06 770.3V773.1M58.11 763.8V769.4M69.17 765.2V771.2M85.75 757.2V769.0M102.34 734.7V744.1M107.86 740.9V759.1M113.39 748.4V762.8M129.98 733.8V748.4M141.03 747.8V763.8M146.56 756.2V763.8M152.09 760.0V777.8M157.62 768.4V781.6M179.73 759.1V764.7M196.31 695.9V715.9M201.84 712.2V719.7M212.90 697.2V709.4M218.42 689.7V715.9M235.01 703.4V713.5M240.54 709.8V729.6M251.59 720.6V742.8M257.12 741.2V752.1M279.23 732.7V738.4M284.76 733.4V739.6M290.29 737.8V746.6M301.34 735.3V738.1M312.40 734.8V740.4M323.46 719.0V731.6M345.57 709.1V721.2M351.10 715.6V730.6M362.15 725.0V732.5M367.68 721.2V732.5M384.26 704.4V719.4M400.85 693.1V708.1M411.90 691.2V701.6M445.07 626.6V635.0M450.60 628.4V639.7M483.77 545.0V569.4M494.82 544.1V576.9M505.88 556.6V569.0M511.41 555.9V563.4M516.94 560.9V584.4M555.63 544.1V560.0M561.16 548.8V569.8M583.27 521.6V549.7M588.80 536.0V552.9M599.86 538.4V572.8M633.02 488.4V507.1M644.08 479.0V489.7M660.66 381.6V410.6M666.19 392.2V424.7M677.25 359.6V380.6M682.78 375.9V404.1M688.30 369.0V402.8M715.94 284.1V338.4M721.47 302.8V334.7M727.00 321.0V358.1M738.06 309.0V324.4M743.58 321.0V335.6M749.11 323.4V340.3M787.81 225.9V260.6M820.98 227.8V267.2M832.03 234.8V275.6M837.56 260.6V290.6M854.14 253.1V289.7M865.20 248.4V266.6M870.73 258.8V286.9M876.26 274.7V294.4M881.78 282.2V319.7M887.31 295.9V330.0M903.90 290.2V346.9M926.01 255.9V272.8M931.54 269.6V321.6M948.12 259.7V310.9M975.76 242.5V260.3M981.29 251.9V265.9M992.34 236.9V258.4M1003.40 230.3V247.8M1042.10 194.7V209.7M1047.62 199.0V243.4M1053.15 225.2V251.9M1058.68 233.1V247.2M1064.21 226.6V260.3M1075.26 200.9V229.4M1080.79 205.0V253.8M1102.90 220.4V238.8M1108.43 225.6V256.0M1119.49 225.2V280.9M1141.60 205.4V222.8M1147.13 217.2V248.1M1152.66 227.5V259.4M1158.18 251.5V279.1M1169.24 271.6V301.6M1174.77 293.8V317.2M1180.30 282.9V323.8M1185.82 299.8V346.2M1191.35 344.4V376.6M1202.41 338.4V367.8M1207.94 343.4V360.9M1213.46 345.9V369.1M1218.99 359.8V400.6M1246.63 350.4V367.8M1268.74 325.6V341.1" stroke="#f23645" stroke-width="1.25" fill="none"/>
<path d="M28.52 772.2h3.9V777.8h-3.9ZM39.58 769.4h3.9V774.1h-3.9ZM50.63 767.5h3.9V772.2h-3.9ZM61.69 767.1h3.9V768.4h-3.9ZM72.75 766.6h3.9V771.2h-3.9ZM78.27 757.2h3.9V767.1h-3.9ZM89.33 766.6h3.9V769.0h-3.9ZM94.86 742.8h3.9V768.4h-3.9ZM116.97 751.6h3.9V760.0h-3.9ZM122.50 736.2h3.9V753.4h-3.9ZM133.55 746.5h3.9V748.4h-3.9ZM161.19 778.8h3.9V781.6h-3.9ZM166.72 769.8h3.9V779.7h-3.9ZM172.25 761.9h3.9V770.3h-3.9ZM183.31 742.2h3.9V763.8h-3.9ZM188.83 700.9h3.9V742.8h-3.9ZM205.42 702.8h3.9V717.8h-3.9ZM222.00 708.4h3.9V715.0h-3.9ZM227.53 706.6h3.9V708.4h-3.9ZM244.11 722.1h3.9V729.1h-3.9ZM260.70 739.0h3.9V749.7h-3.9ZM266.23 735.2h3.9V739.4h-3.9ZM271.75 732.8h3.9V735.6h-3.9ZM293.87 735.3h3.9V740.9h-3.9ZM304.92 734.4h3.9V736.2h-3.9ZM315.98 720.3h3.9V736.2h-3.9ZM327.03 714.7h3.9V726.9h-3.9ZM332.56 712.8h3.9V715.2h-3.9ZM338.09 710.9h3.9V712.2h-3.9ZM354.67 725.9h3.9V729.7h-3.9ZM371.26 721.6h3.9V727.8h-3.9ZM376.79 713.8h3.9V722.2h-3.9ZM387.84 699.1h3.9V717.5h-3.9ZM393.37 698.4h3.9V699.7h-3.9ZM404.43 693.5h3.9V707.2h-3.9ZM415.48 682.2h3.9V693.5h-3.9ZM421.01 639.1h3.9V681.9h-3.9ZM426.54 636.5h3.9V639.1h-3.9ZM432.07 635.0h3.9V637.2h-3.9ZM437.59 628.4h3.9V635.9h-3.9ZM454.18 619.1h3.9V636.9h-3.9ZM459.71 567.1h3.9V619.6h-3.9ZM465.23 558.5h3.9V567.1h-3.9ZM470.76 558.5h3.9V560.9h-3.9ZM476.29 553.4h3.9V558.5h-3.9ZM487.35 544.6h3.9V566.6h-3.9ZM498.40 561.5h3.9V564.7h-3.9ZM520.51 570.9h3.9V581.6h-3.9ZM526.04 568.9h3.9V570.1h-3.9ZM531.57 564.7h3.9V570.3h-3.9ZM537.10 562.4h3.9V565.2h-3.9ZM542.63 561.3h3.9V562.5h-3.9ZM548.15 550.2h3.9V562.8h-3.9ZM564.74 533.2h3.9V559.6h-3.9ZM570.27 530.0h3.9V533.4h-3.9ZM575.79 526.8h3.9V530.4h-3.9ZM592.38 540.9h3.9V547.8h-3.9ZM603.43 555.3h3.9V567.5h-3.9ZM608.96 554.0h3.9V555.2h-3.9ZM614.49 532.2h3.9V554.8h-3.9ZM620.02 530.9h3.9V532.2h-3.9ZM625.55 493.1h3.9V531.3h-3.9ZM636.60 483.5h3.9V501.5h-3.9ZM647.66 451.6h3.9V488.4h-3.9ZM653.19 397.1h3.9V451.9h-3.9ZM669.77 371.8h3.9V419.1h-3.9ZM691.88 360.0h3.9V385.7h-3.9ZM697.41 313.1h3.9V360.9h-3.9ZM702.94 310.3h3.9V314.1h-3.9ZM708.47 307.5h3.9V309.0h-3.9ZM730.58 315.0h3.9V332.8h-3.9ZM752.69 321.0h3.9V330.9h-3.9ZM758.22 314.6h3.9V321.6h-3.9ZM763.75 289.3h3.9V315.0h-3.9ZM769.27 285.6h3.9V289.7h-3.9ZM774.80 252.2h3.9V284.6h-3.9ZM780.33 239.6h3.9V252.2h-3.9ZM791.39 251.2h3.9V254.1h-3.9ZM796.91 251.2h3.9V252.4h-3.9ZM802.44 240.0h3.9V252.2h-3.9ZM807.97 230.6h3.9V239.6h-3.9ZM813.50 229.1h3.9V230.3h-3.9ZM824.55 249.0h3.9V261.0h-3.9ZM841.14 270.4h3.9V284.1h-3.9ZM846.67 266.8h3.9V270.9h-3.9ZM857.72 255.0h3.9V285.9h-3.9ZM890.89 301.5h3.9V316.5h-3.9ZM896.42 296.6h3.9V301.9h-3.9ZM907.47 289.7h3.9V315.9h-3.9ZM913.00 261.0h3.9V290.2h-3.9ZM918.53 259.1h3.9V260.3h-3.9ZM935.11 300.4h3.9V314.6h-3.9ZM940.64 265.9h3.9V297.8h-3.9ZM951.70 295.9h3.9V299.1h-3.9ZM957.23 263.4h3.9V295.9h-3.9ZM962.75 257.1h3.9V265.0h-3.9ZM968.28 256.0h3.9V257.5h-3.9ZM984.87 252.2h3.9V259.4h-3.9ZM995.92 244.8h3.9V257.5h-3.9ZM1006.98 227.9h3.9V246.6h-3.9ZM1012.51 225.6h3.9V226.8h-3.9ZM1018.03 222.8h3.9V224.7h-3.9ZM1023.56 204.6h3.9V222.8h-3.9ZM1029.09 202.8h3.9V205.4h-3.9ZM1034.62 197.5h3.9V203.5h-3.9ZM1067.79 204.1h3.9V236.9h-3.9ZM1084.37 247.8h3.9V249.1h-3.9ZM1089.90 235.9h3.9V249.1h-3.9ZM1095.43 227.5h3.9V235.9h-3.9ZM1112.01 235.4h3.9V250.9h-3.9ZM1123.07 230.3h3.9V250.0h-3.9ZM1128.59 209.1h3.9V230.3h-3.9ZM1134.12 208.2h3.9V209.4h-3.9ZM1161.76 271.6h3.9V273.1h-3.9ZM1194.93 341.0h3.9V356.6h-3.9ZM1222.57 393.5h3.9V397.8h-3.9ZM1228.10 372.1h3.9V393.1h-3.9ZM1233.63 367.8h3.9V374.0h-3.9ZM1239.15 356.9h3.9V368.4h-3.9ZM1250.21 353.4h3.9V361.2h-3.9ZM1255.74 350.9h3.9V352.2h-3.9ZM1261.27 329.0h3.9V352.8h-3.9Z" fill="#089981"/>
<path d="M17.47 762.8h3.9V767.5h-3.9ZM22.99 766.6h3.9V776.9h-3.9ZM34.05 772.2h3.9V774.1h-3.9ZM45.11 770.7h3.9V772.6h-3.9ZM56.16 766.0h3.9V767.9h-3.9ZM67.22 767.5h3.9V771.2h-3.9ZM83.80 757.8h3.9V768.4h-3.9ZM100.39 741.2h3.9V743.5h-3.9ZM105.91 742.8h3.9V750.6h-3.9ZM111.44 749.7h3.9V760.0h-3.9ZM128.03 736.2h3.9V747.8h-3.9ZM139.08 748.8h3.9V758.1h-3.9ZM144.61 756.6h3.9V762.8h-3.9ZM150.14 761.9h3.9V772.2h-3.9ZM155.67 772.2h3.9V780.6h-3.9ZM177.78 761.9h3.9V764.1h-3.9ZM194.36 702.8h3.9V715.0h-3.9ZM199.89 714.1h3.9V718.8h-3.9ZM210.95 703.4h3.9V704.7h-3.9ZM216.47 704.3h3.9V715.0h-3.9ZM233.06 706.6h3.9V712.2h-3.9ZM238.59 710.9h3.9V729.1h-3.9ZM249.64 722.5h3.9V742.2h-3.9ZM255.17 742.2h3.9V750.2h-3.9ZM277.28 732.7h3.9V733.9h-3.9ZM282.81 735.3h3.9V739.1h-3.9ZM288.34 738.1h3.9V739.6h-3.9ZM299.39 735.9h3.9V737.2h-3.9ZM310.45 735.3h3.9V736.6h-3.9ZM321.51 719.4h3.9V727.8h-3.9ZM343.62 711.9h3.9V718.4h-3.9ZM349.15 718.1h3.9V729.7h-3.9ZM360.20 725.4h3.9V727.2h-3.9ZM365.73 725.9h3.9V727.8h-3.9ZM382.31 713.4h3.9V718.4h-3.9ZM398.90 696.5h3.9V707.2h-3.9ZM409.95 693.0h3.9V694.2h-3.9ZM443.12 629.4h3.9V634.1h-3.9ZM448.65 635.0h3.9V637.8h-3.9ZM481.82 552.5h3.9V566.6h-3.9ZM492.87 545.9h3.9V564.1h-3.9ZM503.93 558.6h3.9V559.8h-3.9ZM509.46 560.8h3.9V562.0h-3.9ZM514.99 561.5h3.9V580.6h-3.9ZM553.68 550.6h3.9V552.1h-3.9ZM559.21 552.1h3.9V559.1h-3.9ZM581.32 527.2h3.9V543.5h-3.9ZM586.85 543.1h3.9V548.4h-3.9ZM597.91 542.2h3.9V567.1h-3.9ZM631.07 493.4h3.9V501.9h-3.9ZM642.13 483.5h3.9V487.8h-3.9ZM658.71 397.9h3.9V400.9h-3.9ZM664.24 401.8h3.9V418.1h-3.9ZM675.30 372.2h3.9V377.8h-3.9ZM680.83 376.9h3.9V382.1h-3.9ZM686.35 382.5h3.9V385.3h-3.9ZM713.99 308.1h3.9V325.9h-3.9ZM719.52 326.2h3.9V330.9h-3.9ZM725.05 330.0h3.9V332.8h-3.9ZM736.11 314.6h3.9V323.4h-3.9ZM741.63 323.4h3.9V330.4h-3.9ZM747.16 329.4h3.9V330.6h-3.9ZM785.86 239.1h3.9V254.1h-3.9ZM819.03 229.7h3.9V260.6h-3.9ZM830.08 247.9h3.9V261.6h-3.9ZM835.61 261.0h3.9V283.5h-3.9ZM852.19 266.2h3.9V284.6h-3.9ZM863.25 255.4h3.9V262.1h-3.9ZM868.78 261.0h3.9V283.5h-3.9ZM874.31 282.2h3.9V283.5h-3.9ZM879.83 285.0h3.9V294.8h-3.9ZM885.36 296.2h3.9V316.9h-3.9ZM901.95 296.2h3.9V315.4h-3.9ZM924.06 260.2h3.9V270.4h-3.9ZM929.59 270.4h3.9V314.1h-3.9ZM946.17 264.0h3.9V299.1h-3.9ZM973.81 256.0h3.9V257.5h-3.9ZM979.34 257.1h3.9V259.4h-3.9ZM990.39 253.4h3.9V257.5h-3.9ZM1001.45 244.4h3.9V246.6h-3.9ZM1040.15 197.9h3.9V203.1h-3.9ZM1045.67 203.5h3.9V230.9h-3.9ZM1051.20 231.2h3.9V235.9h-3.9ZM1056.73 233.9h3.9V235.1h-3.9ZM1062.26 235.9h3.9V237.2h-3.9ZM1073.31 203.5h3.9V224.7h-3.9ZM1078.84 224.7h3.9V249.1h-3.9ZM1100.95 227.1h3.9V229.4h-3.9ZM1106.48 229.8h3.9V251.9h-3.9ZM1117.54 235.4h3.9V249.6h-3.9ZM1139.65 208.4h3.9V219.6h-3.9ZM1145.18 219.1h3.9V239.1h-3.9ZM1150.71 239.1h3.9V259.0h-3.9ZM1156.23 259.0h3.9V274.4h-3.9ZM1167.29 272.2h3.9V292.8h-3.9ZM1172.82 294.3h3.9V296.2h-3.9ZM1178.35 296.6h3.9V306.5h-3.9ZM1183.87 306.5h3.9V345.9h-3.9ZM1189.40 345.3h3.9V356.6h-3.9ZM1200.46 341.0h3.9V343.8h-3.9ZM1205.99 344.4h3.9V347.8h-3.9ZM1211.51 348.5h3.9V368.4h-3.9ZM1217.04 367.8h3.9V397.8h-3.9ZM1244.68 356.9h3.9V360.7h-3.9ZM1266.79 328.0h3.9V338.0h-3.9Z" fill="#f23645"/>
</g>
</g>
<text x="14.70" y="30.00" fill="#0d0d0d" font-size="17.5" font-weight="normal" text-anchor="start" textLength="137.2" lengthAdjust="spacingAndGlyphs">ChartAnalysis_4</text>
<text x="157.20" y="30.00" fill="#0d0d0d" font-size="17.5" font-weight="normal" text-anchor="start" textLength="64.7" lengthAdjust="spacingAndGlyphs">created</text>
<text x="227.20" y="30.00" fill="#0d0d0d" font-size="17.5" font-weight="normal" text-anchor="start" textLength="34.7" lengthAdjust="spacingAndGlyphs">with</text>
<text x="267.70" y="30.00" fill="#0d0d0d" font-size="17.5" font-weight="normal" text-anchor="start" textLength="147.9" lengthAdjust="spacingAndGlyphs">TradingView.com,</text>
<text x="422.70" y="30.00" fill="#0d0d0d" font-size="17.5" font-weight="normal" text-anchor="start" textLength="33.9" lengthAdjust="spacingAndGlyphs">Aug</text>
<text x="460.20" y="30.00" fill="#0d0d0d" font-size="17.5" font-weight="normal" text-anchor="start" textLength="26.4" lengthAdjust="spacingAndGlyphs">04,</text>
<text x="493.20" y="30.00" fill="#0d0d0d" font-size="17.5" font-weight="normal" text-anchor="start" textLength="44.9" lengthAdjust="spacingAndGlyphs">2025</text>
<text x="541.70" y="30.00" fill="#0d0d0d" font-size="17.5" font-weight="normal" text-anchor="start" textLength="51.4" lengthAdjust="spacingAndGlyphs">05:56</text>
<text x="597.70" y="30.00" fill="#0d0d0d" font-size="17.5" font-weight="normal" text-anchor="start" textLength="36.9" lengthAdjust="spacingAndGlyphs">UTC</text>
<text x="26.95" y="69.75" fill="#14161c" font-size="17.5" font-weight="normal" text-anchor="start" textLength="80.9" lengthAdjust="spacingAndGlyphs">Ethereum</text>
<text x="112.60" y="69.75" fill="#14161c" font-size="17.5" font-weight="normal" text-anchor="start" textLength="6.5" lengthAdjust="spacingAndGlyphs">/</text>
<text x="123.50" y="69.75" fill="#14161c" font-size="17.5" font-weight="normal" text-anchor="start" textLength="36.5" lengthAdjust="spacingAndGlyphs">U.S.</text>
<text x="163.60" y="69.75" fill="#14161c" font-size="17.5" font-weight="normal" text-anchor="start" textLength="48.9" lengthAdjust="spacingAndGlyphs">Dollar</text>
<text x="219.20" y="69.75" fill="#14161c" font-size="17.5" font-weight="normal" text-anchor="start">·</text>
<text x="228.90" y="69.75" fill="#14161c" font-size="17.5" font-weight="normal" text-anchor="start" textLength="21.5" lengthAdjust="spacingAndGlyphs">4h</text>
<text x="256.60" y="69.75" fill="#14161c" font-size="17.5" font-weight="normal" text-anchor="start">·</text>
<text x="266.00" y="69.75" fill="#14161c" font-size="17.5" font-weight="normal" text-anchor="start" textLength="78.6" lengthAdjust="spacingAndGlyphs">BINANCE</text>
<text x="355.20" y="69.75" fill="#14161c" font-size="17.5" font-weight="normal" text-anchor="start" textLength="13.4" lengthAdjust="spacingAndGlyphs">O</text>
<text x="369.20" y="69.75" fill="#f23645" font-size="17.5" font-weight="normal" text-anchor="start" textLength="76.4" lengthAdjust="spacingAndGlyphs">3,560.49</text>
<text x="455.80" y="69.75" fill="#14161c" font-size="17.5" font-weight="normal" text-anchor="start" textLength="13.2" lengthAdjust="spacingAndGlyphs">H</text>
<text x="469.20" y="69.75" fill="#f23645" font-size="17.5" font-weight="normal" text-anchor="start" textLength="73.9" lengthAdjust="spacingAndGlyphs">3,566.77</text>
<text x="553.90" y="69.75" fill="#14161c" font-size="17.5" font-weight="normal" text-anchor="start" textLength="9.5" lengthAdjust="spacingAndGlyphs">L</text>
<text x="563.60" y="69.75" fill="#f23645" font-size="17.5" font-weight="normal" text-anchor="start" textLength="74.8" lengthAdjust="spacingAndGlyphs">3,526.92</text>
<text x="648.80" y="69.75" fill="#14161c" font-size="17.5" font-weight="normal" text-anchor="start" textLength="12.7" lengthAdjust="spacingAndGlyphs">C</text>
<text x="661.95" y="69.75" fill="#f23645" font-size="17.5" font-weight="normal" text-anchor="start" textLength="72.4" lengthAdjust="spacingAndGlyphs">3,534.91</text>
<text x="745.20" y="69.75" fill="#f23645" font-size="17.5" font-weight="normal" text-anchor="start" textLength="59.4" lengthAdjust="spacingAndGlyphs">−23.98</text>
<text x="811.40" y="69.75" fill="#f23645" font-size="17.5" font-weight="normal" text-anchor="start" textLength="76.4" lengthAdjust="spacingAndGlyphs">(−0.67%)</text>
<text x="26.95" y="94.70" fill="#14161c" font-size="17.5" font-weight="normal" text-anchor="start" textLength="38.3" lengthAdjust="spacingAndGlyphs">EMA</text>
<text x="70.80" y="94.70" fill="#14161c" font-size="17.5" font-weight="normal" text-anchor="start" textLength="124.8" lengthAdjust="spacingAndGlyphs">20/50/100/200</text>
<text x="206.40" y="94.70" fill="#ff0000" font-size="17.5" font-weight="normal" text-anchor="start" textLength="75.1" lengthAdjust="spacingAndGlyphs">3,542.24</text>
<text x="292.20" y="94.70" fill="#ff8000" font-size="17.5" font-weight="normal" text-anchor="start" textLength="70.4" lengthAdjust="spacingAndGlyphs">3,617.94</text>
<text x="373.50" y="94.70" fill="#00ffff" font-size="17.5" font-weight="normal" text-anchor="start" textLength="69.9" lengthAdjust="spacingAndGlyphs">3,566.11</text>
<text x="454.00" y="94.70" fill="#0000ff" font-size="17.5" font-weight="normal" text-anchor="start" textLength="76.0" lengthAdjust="spacingAndGlyphs">3,339.86</text>
<text x="26.95" y="119.60" fill="#14161c" font-size="17.5" font-weight="normal" text-anchor="start" textLength="23.4" lengthAdjust="spacingAndGlyphs">BB</text>
<text x="56.95" y="119.60" fill="#14161c" font-size="17.5" font-weight="normal" text-anchor="start" textLength="30.8" lengthAdjust="spacingAndGlyphs">(20,</text>
<text x="94.45" y="119.60" fill="#14161c" font-size="17.5" font-weight="normal" text-anchor="start" textLength="43.4" lengthAdjust="spacingAndGlyphs">SMA,</text>
<text x="143.60" y="119.60" fill="#14161c" font-size="17.5" font-weight="normal" text-anchor="start" textLength="49.2" lengthAdjust="spacingAndGlyphs">close,</text>
<text x="199.80" y="119.60" fill="#14161c" font-size="17.5" font-weight="normal" text-anchor="start" textLength="16.4" lengthAdjust="spacingAndGlyphs">2)</text>
<text x="227.60" y="119.60" fill="#2962ff" font-size="17.5" font-weight="normal" text-anchor="start" textLength="69.3" lengthAdjust="spacingAndGlyphs">3,519.14</text>
<text x="308.20" y="119.60" fill="#f23645" font-size="17.5" font-weight="normal" text-anchor="start" textLength="75.9" lengthAdjust="spacingAndGlyphs">3,680.44</text>
<text x="394.50" y="119.60" fill="#089981" font-size="17.5" font-weight="normal" text-anchor="start" textLength="73.6" lengthAdjust="spacingAndGlyphs">3,357.84</text>
<text x="1491.50" y="83.15" fill="#14161c" font-size="17.5" font-weight="normal" text-anchor="start" textLength="78.5" lengthAdjust="spacingAndGlyphs">4,200.00</text>
<text x="1491.50" y="161.32" fill="#14161c" font-size="17.5" font-weight="normal" text-anchor="start" textLength="78.5" lengthAdjust="spacingAndGlyphs">4,000.00</text>
<text x="1491.50" y="474.00" fill="#14161c" font-size="17.5" font-weight="normal" text-anchor="start" textLength="78.5" lengthAdjust="spacingAndGlyphs">3,200.00</text>
<text x="1491.50" y="552.17" fill="#14161c" font-size="17.5" font-weight="normal" text-anchor="start" textLength="78.5" lengthAdjust="spacingAndGlyphs">3,000.00</text>
<text x="1491.50" y="630.34" fill="#14161c" font-size="17.5" font-weight="normal" text-anchor="start" textLength="78.5" lengthAdjust="spacingAndGlyphs">2,800.00</text>
<text x="1491.50" y="708.51" fill="#14161c" font-size="17.5" font-weight="normal" text-anchor="start" textLength="78.5" lengthAdjust="spacingAndGlyphs">2,600.00</text>
<text x="1491.50" y="786.68" fill="#14161c" font-size="17.5" font-weight="normal" text-anchor="start" textLength="78.5" lengthAdjust="spacingAndGlyphs">2,400.00</text>
<text x="1491.50" y="864.85" fill="#14161c" font-size="17.5" font-weight="normal" text-anchor="start" textLength="78.5" lengthAdjust="spacingAndGlyphs">2,200.00</text>
<text x="1491.50" y="943.02" fill="#14161c" font-size="17.5" font-weight="normal" text-anchor="start" textLength="78.5" lengthAdjust="spacingAndGlyphs">2,000.00</text>
<path d="M1479 223.0H1575.5a2.5 2.5 0 0 1 2.5 2.5V246.3a2.5 2.5 0 0 1 -2.5 2.5H1479Z" fill="#f23645"/>
<text x="1492.40" y="240.60" fill="#fff" font-size="17.5" font-weight="normal" text-anchor="start" textLength="77.6" lengthAdjust="spacingAndGlyphs">3,680.44</text>
<path d="M1479 248.8H1575.5a2.5 2.5 0 0 1 2.5 2.5V271.7a2.5 2.5 0 0 1 -2.5 2.5H1479Z" fill="#ff7d05"/>
<text x="1492.40" y="266.40" fill="#fff" font-size="17.5" font-weight="normal" text-anchor="start" textLength="77.6" lengthAdjust="spacingAndGlyphs">3,617.94</text>
<path d="M1479 274.2H1575.5a2.5 2.5 0 0 1 2.5 2.5V297.4a2.5 2.5 0 0 1 -2.5 2.5H1479Z" fill="#00ffff"/>
<text x="1492.40" y="291.80" fill="#000" font-size="17.5" font-weight="normal" text-anchor="start" textLength="77.6" lengthAdjust="spacingAndGlyphs">3,566.11</text>
<path d="M1479 299.9H1575.5a2.5 2.5 0 0 1 2.5 2.5V322.8a2.5 2.5 0 0 1 -2.5 2.5H1479Z" fill="#ff0000"/>
<text x="1492.40" y="317.50" fill="#fff" font-size="17.5" font-weight="normal" text-anchor="start" textLength="77.6" lengthAdjust="spacingAndGlyphs">3,542.24</text>
<path d="M1479 325.3H1575.5a2.5 2.5 0 0 1 2.5 2.5V369.6a2.5 2.5 0 0 1 -2.5 2.5H1479Z" fill="#f23645"/>
<text x="1492.40" y="342.90" fill="#fff" font-size="17.5" font-weight="normal" text-anchor="start" textLength="77.6" lengthAdjust="spacingAndGlyphs">3,534.91</text>
<path d="M1479 372.1H1575.5a2.5 2.5 0 0 1 2.5 2.5V395.0a2.5 2.5 0 0 1 -2.5 2.5H1479Z" fill="#2962ff"/>
<text x="1492.40" y="389.70" fill="#fff" font-size="17.5" font-weight="normal" text-anchor="start" textLength="77.6" lengthAdjust="spacingAndGlyphs">3,519.14</text>
<path d="M1479 397.5H1575.5a2.5 2.5 0 0 1 2.5 2.5V420.2a2.5 2.5 0 0 1 -2.5 2.5H1479Z" fill="#089981"/>
<text x="1492.40" y="415.10" fill="#fff" font-size="17.5" font-weight="normal" text-anchor="start" textLength="77.6" lengthAdjust="spacingAndGlyphs">3,357.84</text>
<path d="M1479 422.7H1575.5a2.5 2.5 0 0 1 2.5 2.5V445.6a2.5 2.5 0 0 1 -2.5 2.5H1479Z" fill="#0000ff"/>
<text x="1492.40" y="440.30" fill="#fff" font-size="17.5" font-weight="normal" text-anchor="start" textLength="77.6" lengthAdjust="spacingAndGlyphs">3,339.86</text>
<text x="1492.40" y="364.00" fill="#ffffff" font-size="17.5" font-weight="normal" text-anchor="start" textLength="77.6" lengthAdjust="spacingAndGlyphs" fill-opacity="0.72">02:03:31</text>
<text x="25.20" y="1008.75" fill="#14161c" font-size="17" font-weight="normal" text-anchor="start" textLength="21.6" lengthAdjust="spacingAndGlyphs">28</text>
<text x="121.90" y="1008.75" fill="#14161c" font-size="17" font-weight="bold" text-anchor="start" textLength="27.2" lengthAdjust="spacingAndGlyphs">Jul</text>
<text x="235.00" y="1008.75" fill="#14161c" font-size="17" font-weight="normal" text-anchor="middle">4</text>
<text x="334.50" y="1008.75" fill="#14161c" font-size="17" font-weight="normal" text-anchor="middle">7</text>
<text x="423.20" y="1008.75" fill="#14161c" font-size="17" font-weight="normal" text-anchor="start" textLength="21.6" lengthAdjust="spacingAndGlyphs">10</text>
<text x="522.70" y="1008.75" fill="#14161c" font-size="17" font-weight="normal" text-anchor="start" textLength="21.6" lengthAdjust="spacingAndGlyphs">13</text>
<text x="622.20" y="1008.75" fill="#14161c" font-size="17" font-weight="normal" text-anchor="start" textLength="21.6" lengthAdjust="spacingAndGlyphs">16</text>
<text x="721.70" y="1008.75" fill="#14161c" font-size="17" font-weight="normal" text-anchor="start" textLength="21.6" lengthAdjust="spacingAndGlyphs">19</text>
<text x="821.20" y="1008.75" fill="#14161c" font-size="17" font-weight="normal" text-anchor="start" textLength="21.6" lengthAdjust="spacingAndGlyphs">22</text>
<text x="920.70" y="1008.75" fill="#14161c" font-size="17" font-weight="normal" text-anchor="start" textLength="21.6" lengthAdjust="spacingAndGlyphs">25</text>
<text x="1020.20" y="1008.75" fill="#14161c" font-size="17" font-weight="normal" text-anchor="start" textLength="21.6" lengthAdjust="spacingAndGlyphs">28</text>
<text x="1145.85" y="1008.75" fill="#14161c" font-size="17" font-weight="bold" text-anchor="start" textLength="35.7" lengthAdjust="spacingAndGlyphs">Aug</text>
<text x="1263.20" y="1008.75" fill="#14161c" font-size="17" font-weight="normal" text-anchor="middle">4</text>
<text x="1362.70" y="1008.75" fill="#14161c" font-size="17" font-weight="normal" text-anchor="middle">7</text>
<text x="1451.40" y="1008.75" fill="#14161c" font-size="17" font-weight="normal" text-anchor="start" textLength="21.6" lengthAdjust="spacingAndGlyphs">10</text>
<g>
<circle cx="1268.4" cy="961.6" r="14.7" fill="#fff" stroke="#8e0cb8" stroke-width="1.9"/>
<circle cx="1278.9" cy="951.25" r="6" fill="#fff"/>
<circle cx="1278.9" cy="951.25" r="3.8" fill="#f23645"/>
<path d="M1272.8 953.8L1262.5 962.3L1268.2 962.3L1264.1 969.1L1274.4 960.8L1268.9 960.8Z" fill="#8e0cb8" stroke="#8e0cb8" stroke-width="0.5" stroke-linejoin="round"/>
</g>
<g>
<circle cx="1312.9" cy="961.3" r="15.3" fill="#fff" stroke="#f5152d" stroke-width="1.9"/>
<clipPath id="fc"><circle cx="1313" cy="961.3" r="12"/></clipPath>
<g clip-path="url(#fc)">
<rect x="1300" y="949" width="26" height="25" fill="#fafafa"/>
<rect x="1300" y="949.30" width="26" height="5.10" fill="#ef5350"/>
<rect x="1300" y="959.00" width="26" height="4.75" fill="#ef5350"/>
<rect x="1300" y="968.10" width="26" height="5.40" fill="#ef5350"/>
<rect x="1300" y="949" width="15.6" height="14.75" fill="#1e88e5"/>
<circle cx="1304.06" cy="952.50" r="1.15" fill="#fff"/>
<circle cx="1304.06" cy="956.56" r="1.15" fill="#fff"/>
<circle cx="1304.06" cy="960.62" r="1.15" fill="#fff"/>
<circle cx="1308.12" cy="952.50" r="1.15" fill="#fff"/>
<circle cx="1308.12" cy="956.56" r="1.15" fill="#fff"/>
<circle cx="1308.12" cy="960.62" r="1.15" fill="#fff"/>
<circle cx="1312.19" cy="952.50" r="1.15" fill="#fff"/>
<circle cx="1312.19" cy="956.56" r="1.15" fill="#fff"/>
<circle cx="1312.19" cy="960.62" r="1.15" fill="#fff"/>
</g></g>
<path d="M15 1041.25H26.5V1055H20.6V1046H15Z" fill="#131722"/>
<circle cx="31" cy="1043.75" r="2.5" fill="#131722"/>
<path d="M36.5 1041.25H44L39.4 1055H31.9Z" fill="#131722"/>
<text x="49.50" y="1056.25" fill="#131722" font-size="18.5" font-weight="normal" text-anchor="start" textLength="111.5" lengthAdjust="spacingAndGlyphs">TradingView</text>
</svg>
</body></html>
